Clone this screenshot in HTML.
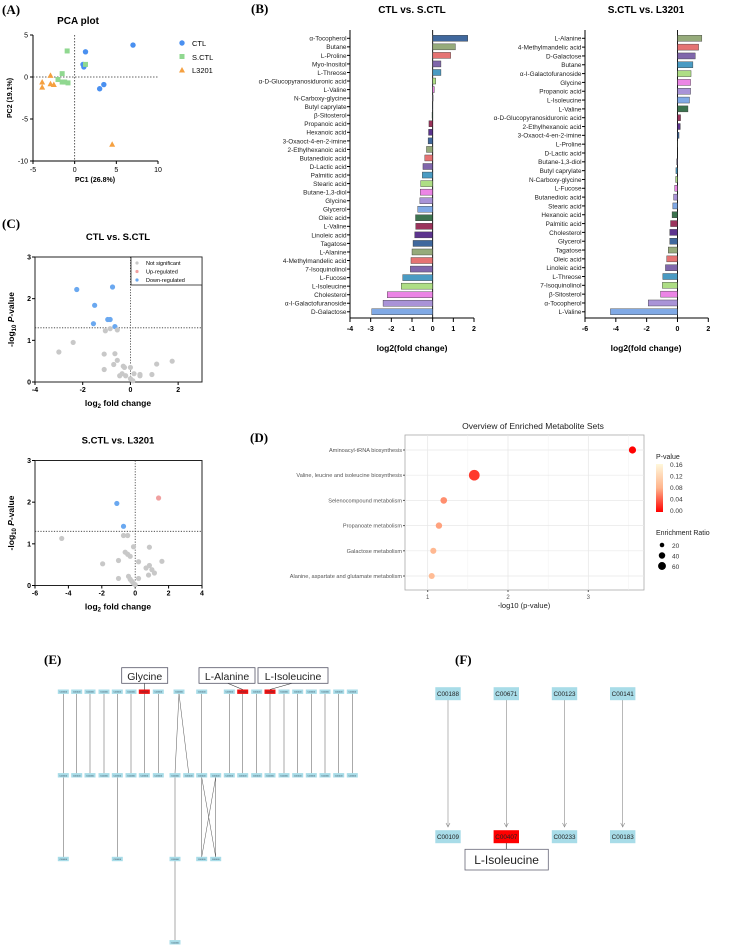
<!DOCTYPE html>
<html><head><meta charset="utf-8"><style>
body{margin:0;background:#fff;}
svg{display:block;font-family:"Liberation Sans",sans-serif;}
.pl{font-family:"Liberation Serif",serif;font-weight:bold;font-size:13px;}
</style></head><body>
<svg id="fig" width="729" height="947" viewBox="0 0 729 947">
<g id="gA"></g>
<g id="gB"></g>
<g id="gC"></g>
<g id="gD"></g>
<g id="gE"></g>
<g id="gF"></g>
<text class="pl" x="2" y="14">(A)</text>
<text class="pl" x="251" y="13">(B)</text>
<text class="pl" x="2" y="228">(C)</text>
<text class="pl" x="250" y="442">(D)</text>
<text class="pl" x="44" y="664">(E)</text>
<text class="pl" x="455" y="664">(F)</text>
</svg>
<script>
const NS="http://www.w3.org/2000/svg";
function mk(p,t,a,txt){const e=document.createElementNS(NS,t);for(const k in a)e.setAttribute(k,a[k]);if(txt!==undefined)e.textContent=txt;p.appendChild(e);return e;}
function lin(d0,d1,r0,r1){return v=>r0+(v-d0)/(d1-d0)*(r1-r0);}

/* ===== Panel A data ===== */
const pcaCTLx=[1.3,7,1,1.1,3,3.5,1.2];
const pcaCTLy=[3.0,3.8,1.5,1.2,-1.4,-0.9,1.4];
const pcaSCTLx=[-0.9,1.3,-1.5,-2,-1.5,-0.8,-1.2];
const pcaSCTLy=[3.1,1.5,0.4,-0.3,-0.6,-0.7,-0.6];
const pcaL3201x=[-2.9,-3.9,-3.9,-2.9,-2.5,4.5];
const pcaL3201y=[0.2,-0.6,-1.2,-0.8,-0.9,-8];
const pcaXTicks=[-5,0,5,10];
const pcaYTicks=[5,0,-5,-10];

/* ===== Panel B data ===== */
const fcLeftNames=["α-Tocopherol","Butane","L-Proline","Myo-Inositol","L-Threose","α-D-Glucopyranosiduronic acid","L-Valine","N-Carboxy-glycine","Butyl caprylate","β-Sitosterol","Propanoic acid","Hexanoic acid","3-Oxaoct-4-en-2-imine","2-Ethylhexanoic acid","Butanedioic acid","D-Lactic acid","Palmitic acid","Stearic acid","Butane-1,3-diol","Glycine","Glycerol","Oleic acid","L-Valine","Linoleic acid","Tagatose","L-Alanine","4-Methylmandelic acid","7-Isoquinolinol","L-Fucose","L-Isoleucine","Cholesterol","α-I-Galactofuranoside","D-Galactose"];
const fcLeftVals=[1.7,1.1,0.87,0.4,0.4,0.15,0.08,0.02,-0.02,-0.03,-0.18,-0.2,-0.22,-0.3,-0.38,-0.47,-0.5,-0.58,-0.6,-0.62,-0.72,-0.83,-0.82,-0.87,-0.95,-1.0,-1.05,-1.08,-1.45,-1.52,-2.2,-2.4,-2.95];
const fcRightNames=["L-Alanine","4-Methylmandelic acid","D-Galactose","Butane","α-I-Galactofuranoside","Glycine","Propanoic acid","L-Isoleucine","L-Valine","α-D-Glucopyranosiduronic acid","2-Ethylhexanoic acid","3-Oxaoct-4-en-2-imine","L-Proline","D-Lactic acid","Butane-1,3-diol","Butyl caprylate","N-Carboxy-glycine","L-Fucose","Butanedioic acid","Stearic acid","Hexanoic acid","Palmitic acid","Cholesterol","Glycerol","Tagatose","Oleic acid","Linoleic acid","L-Threose","7-Isoquinolinol","β-Sitosterol","α-Tocopherol","L-Valine"];
const fcRightVals=[1.58,1.37,1.15,1.0,0.88,0.85,0.85,0.78,0.68,0.2,0.18,0.1,0.02,0.0,-0.05,-0.1,-0.12,-0.18,-0.25,-0.3,-0.35,-0.45,-0.5,-0.5,-0.6,-0.7,-0.78,-0.95,-0.98,-1.1,-1.9,-4.35];
const fcLeftTicks=[-4,-3,-2,-1,0,1,2];
const fcRightTicks=[-6,-4,-2,0,2];

/* ===== Panel C data ===== */
const v1x=[-2.25,-0.75,-1.5,-1.55,-0.95,-0.85,-0.65,-1.05,-0.85,-0.55,-2.4,-3,-1.1,-0.65,-0.55,-0.7,-1.1,-0.3,-0.25,0,-0.35,-0.45,-0.2,0.15,0.4,0.4,0,0.1,0.9,1.1,1.75];
const v1y=[2.22,2.28,1.84,1.4,1.5,1.5,1.33,1.23,1.28,1.25,0.95,0.72,0.67,0.68,0.52,0.42,0.3,0.38,0.35,0.35,0.2,0.15,0.15,0.2,0.18,0.15,0.08,0.03,0.18,0.43,0.5];
const v1cls=["d","d","d","d","d","d","d","n","n","n","n","n","n","n","n","n","n","n","n","n","n","n","n","n","n","n","n","n","n","n","n"];
const v2x=[1.4,-1.1,-0.7,-4.4,-0.7,-0.45,-0.1,0.85,-0.6,-0.45,-0.3,-1,-1.95,0.2,1.6,0.85,0.65,1,1.15,0.8,-1,-0.4,-0.3,-0.2,0.2,-0.1,0];
const v2y=[2.1,1.97,1.42,1.13,1.2,1.2,0.93,0.92,0.8,0.75,0.7,0.6,0.52,0.57,0.58,0.48,0.42,0.38,0.3,0.25,0.17,0.22,0.15,0.1,0.17,0.05,0.02];
const v2cls=["u","d","d","n","n","n","n","n","n","n","n","n","n","n","n","n","n","n","n","n","n","n","n","n","n","n","n"];
const v1XTicks=[-4,-2,0,2];
const v2XTicks=[-6,-4,-2,0,2,4];
const vYTicks=[0,1,2,3];

/* ===== Panel D data ===== */
const enrNames=["Aminoacyl-tRNA biosynthesis","Valine, leucine and isoleucine biosynthesis","Selenocompound metabolism","Propanoate metabolism","Galactose metabolism","Alanine, aspartate and glutamate metabolism"];
const enrLogP=[3.55,1.58,1.2,1.14,1.07,1.05];
const enrPval=[0.0003,0.026,0.063,0.072,0.085,0.089];
const enrRatio=[28,62,24,22,20,20];
const enrXTicks=[1,2,3];
const pLegendTicks=[0.16,0.12,0.08,0.04,0.00];
const erLegend=[20,40,60];

/* ===== Panel A ===== */
(function(){
const g=document.getElementById('gA');
const X=lin(-5,10,33,158),Y=lin(5,-10,35,161);
mk(g,'text',{x:78,y:24,'font-size':10,'font-weight':'bold','text-anchor':'middle',},'PCA plot');
mk(g,'line',{x1:33,y1:35,x2:33,y2:161,stroke:'#000','stroke-width':1,});
mk(g,'line',{x1:33,y1:161,x2:158,y2:161,stroke:'#000','stroke-width':1,});
mk(g,'line',{x1:X(0),y1:35,x2:X(0),y2:161,stroke:'#333','stroke-dasharray':'1.5,1.5','stroke-width':0.8,});
mk(g,'line',{x1:33,y1:Y(0),x2:158,y2:Y(0),stroke:'#333','stroke-dasharray':'1.5,1.5','stroke-width':0.8,});
pcaXTicks.forEach(t=>{mk(g,'line',{x1:X(t),y1:161,x2:X(t),y2:164,stroke:'#000'});const e=mk(g,'text',{x:X(t),y:172,'font-size':7,'text-anchor':'middle'},t);});
pcaYTicks.forEach(t=>{mk(g,'line',{x1:30,y1:Y(t),x2:33,y2:Y(t),stroke:'#000'});const e=mk(g,'text',{x:28,y:Y(t)+2.5,'font-size':7,'text-anchor':'end'},t);});
mk(g,'text',{x:95,y:182,'font-size':7,'font-weight':'bold','text-anchor':'middle',},'PC1 (26.8%)');
mk(g,'text',{x:12,y:98,'font-size':7,'font-weight':'bold','text-anchor':'middle',transform:'rotate(-90 12 98)',},'PC2 (19.1%)');
pcaCTLx.forEach((v,i)=>{const e=mk(g,'circle',{cx:X(v),cy:Y(pcaCTLy[i]),r:2.7,fill:'#4a90f0'});});
pcaSCTLx.forEach((v,i)=>{const e=mk(g,'rect',{x:X(v)-2.5,y:Y(pcaSCTLy[i])-2.5,width:5,height:5,fill:'#90d890'});});
pcaL3201x.forEach((v,i)=>{const x=X(v),y=Y(pcaL3201y[i]);const e=mk(g,'polygon',{points:`${x},${y-3} ${x-3},${y+2.5} ${x+3},${y+2.5}`,fill:'#f5a040'});});
const lg=mk(g,'g',{});
mk(lg,'circle',{cx:182,cy:43,r:2.7,fill:'#4a90f0'});mk(lg,'text',{x:192,y:46,'font-size':7.5},'CTL');
mk(lg,'rect',{x:179.5,y:54,width:5,height:5,fill:'#90d890'});mk(lg,'text',{x:192,y:60,'font-size':7.5},'S.CTL');
mk(lg,'polygon',{points:'182,67 179,72.5 185,72.5',fill:'#f5a040'});mk(lg,'text',{x:192,y:73,'font-size':7.5},'L3201');
})();

/* ===== Panel B ===== */
const pal=['#1f4e8c','#849c64','#e05a5a','#6a4c9c','#2a8ab8','#a0d870','#e870e0','#9a80d0','#6a9ae0','#1a5a30','#8a1040','#40107a'];
function fcPanel(names,vals,ticks,xmin,xmax,axL,axR,title,cx,start,tag){
 const g=document.getElementById('gB');
 const X=lin(xmin,xmax,axL,axR);const n=names.length;
 const y0=38.3,y1=311.8;const Y=i=>y0+i*(y1-y0)/(n-1);
 mk(g,'text',{x:cx,y:13,'font-size':10,'font-weight':'bold','text-anchor':'middle',},title);
 mk(g,'line',{x1:axL,y1:30,x2:axL,y2:318,stroke:'#000','stroke-width':1,});
 mk(g,'line',{x1:axL,y1:318,x2:axR,y2:318,stroke:'#000','stroke-width':1,});
 mk(g,'line',{x1:X(0),y1:30,x2:X(0),y2:318,stroke:'#000','stroke-width':0.9});
 ticks.forEach(t=>{mk(g,'line',{x1:X(t),y1:318,x2:X(t),y2:322,stroke:'#000'});const e=mk(g,'text',{x:X(t),y:331,'font-size':7,'font-weight':'bold','text-anchor':'middle'},t);});
 mk(g,'text',{x:cx,y:351,'font-size':8.5,'font-weight':'bold','text-anchor':'middle',},'log2(fold change)');
 names.forEach((nm,i)=>{
  const y=Y(i);mk(g,'line',{x1:axL-3,y1:y,x2:axL,y2:y,stroke:'#000'});
  const t=mk(g,'text',{x:axL-3.5,y:y+2.4,'font-size':6.4,'text-anchor':'end',fill:'#222'},nm);
  
  const v=vals[i];const xa=Math.min(X(0),X(v)),w=Math.abs(X(v)-X(0));
  const c=pal[(i+start)%pal.length];
  const b=mk(g,'rect',{x:xa,y:y-3,width:w,height:6,fill:c,'fill-opacity':0.85,stroke:'#333','stroke-width':0.4});
  
 });
}
fcPanel(fcLeftNames,fcLeftVals,fcLeftTicks,-4,2,350,474,'CTL vs. S.CTL',412,0,'fc-left');
fcPanel(fcRightNames,fcRightVals,fcRightTicks,-6,2,585,708.3,'S.CTL vs. L3201',646,1,'fc-right');

/* ===== Panel C ===== */
function volcano(xs,ys,cls,xt,xmin,xmax,top,title,tag,legend){
 const g=document.getElementById('gC');
 const L=35,R=202,B=top+125;const X=lin(xmin,xmax,L,R),Y=lin(0,3,B,top);
 mk(g,'text',{x:118,y:top-17,'font-size':9.5,'font-weight':'bold','text-anchor':'middle',},title);
 mk(g,'rect',{x:L,y:top,width:R-L,height:B-top,fill:'none',stroke:'#222','stroke-width':1,});
 mk(g,'line',{x1:X(0),y1:top,x2:X(0),y2:B,stroke:'#333','stroke-dasharray':'1.2,1.5','stroke-width':0.8});
 mk(g,'line',{x1:L,y1:Y(1.3),x2:R,y2:Y(1.3),stroke:'#333','stroke-dasharray':'1.2,1.5','stroke-width':0.8});
 xt.forEach(t=>{mk(g,'line',{x1:X(t),y1:B,x2:X(t),y2:B+3,stroke:'#000'});const e=mk(g,'text',{x:X(t),y:B+10,'font-size':7,'font-weight':'bold','text-anchor':'middle'},t);});
 vYTicks.forEach(t=>{mk(g,'line',{x1:L-3,y1:Y(t),x2:L,y2:Y(t),stroke:'#000'});const e=mk(g,'text',{x:L-4,y:Y(t)+2.5,'font-size':7,'font-weight':'bold','text-anchor':'end'},t);});
 const xl=mk(g,'text',{x:118,y:B+24,'font-size':8.5,'font-weight':'bold','text-anchor':'middle',});
 xl.innerHTML='log<tspan font-size="6" dy="2">2</tspan><tspan dy="-2"> fold change</tspan>';
 const yl=mk(g,'text',{x:14,y:(top+B)/2,'font-size':8.5,'font-weight':'bold','text-anchor':'middle',transform:`rotate(-90 14 ${(top+B)/2})`,});
 yl.innerHTML='-log<tspan font-size="6" dy="2">10</tspan><tspan dy="-2" font-style="italic"> P</tspan>-value';
 const col={n:'#c8c8c8',u:'#f0a0a0',d:'#6aa8f0'};
 xs.forEach((v,i)=>{const e=mk(g,'circle',{cx:X(v),cy:Y(ys[i]),r:2.6,fill:col[cls[i]]});});
 if(legend){const lg=mk(g,'g',{});
  mk(lg,'rect',{x:131,y:top,width:71,height:28,fill:'#fff',stroke:'#222','stroke-width':0.8});
  [['n','Not significant'],['u','Up-regulated'],['d','Down-regulated']].forEach((p,k)=>{mk(lg,'circle',{cx:137,cy:top+6+k*8.5,r:1.6,fill:col[p[0]]});mk(lg,'text',{x:146,y:top+8+k*8.5,'font-size':5.5},p[1]);});}
}
volcano(v1x,v1y,v1cls,v1XTicks,-4,3,257,'CTL vs. S.CTL','volcano-top',true);
volcano(v2x,v2y,v2cls,v2XTicks,-6,4,460.5,'S.CTL vs. L3201','volcano-bottom',false);

/* ===== Panel D ===== */
(function(){
 const g=document.getElementById('gD');
 const L=405,R=644,T=435,B=590;const X=lin(1,3,427.7,588.3);
 const Y=i=>450+i*25.2;
 mk(g,'text',{x:533,y:429,'font-size':8.5,'text-anchor':'middle',fill:'#222',},'Overview of Enriched Metabolite Sets');
 mk(g,'rect',{x:L,y:T,width:R-L,height:B-T,fill:'#fff',stroke:'#aaa','stroke-width':0.8,});
 [1.5,2.5,3.5].forEach(t=>mk(g,'line',{x1:X(t),y1:T,x2:X(t),y2:B,stroke:'#f0f0f0','stroke-width':0.5}));
 enrXTicks.forEach(t=>{mk(g,'line',{x1:X(t),y1:T,x2:X(t),y2:B,stroke:'#e4e4e4','stroke-width':0.7});mk(g,'line',{x1:X(t),y1:B,x2:X(t),y2:B+2,stroke:'#555'});const e=mk(g,'text',{x:X(t),y:B+9,'font-size':6,'text-anchor':'middle',fill:'#555'},t);});
 mk(g,'text',{x:524,y:608,'font-size':7.5,'text-anchor':'middle',fill:'#222',},'-log10 (p-value)');
 function pcol(p){const t=Math.min(p/0.16,1);const a=[255,0,0],b=[255,248,220];const m=[255,180,140];let c;if(t<0.5){const u=t/0.5;c=a.map((v,k)=>v+(m[k]-v)*u);}else{const u=(t-0.5)/0.5;c=m.map((v,k)=>v+(b[k]-v)*u);}return `rgb(${c.map(Math.round).join(',')})`;}
 const rs=v=>Math.sqrt(v)*0.68;
 enrNames.forEach((nm,i)=>{const y=Y(i);
  mk(g,'line',{x1:L,y1:y,x2:R,y2:y,stroke:'#e8e8e8','stroke-width':0.7});
  mk(g,'line',{x1:L-2,y1:y,x2:L,y2:y,stroke:'#555'});
  const t=mk(g,'text',{x:L-3,y:y+2,'font-size':5.6,'text-anchor':'end',fill:'#555'},nm);
  const c=mk(g,'circle',{cx:X(enrLogP[i]),cy:y,r:rs(enrRatio[i]),fill:pcol(enrPval[i])});
 });
 const lg=mk(g,'g',{});
 const df=mk(lg,'defs',{});const gr=mk(df,'linearGradient',{id:'pg',x1:0,y1:1,x2:0,y2:0});
 mk(gr,'stop',{offset:'0','stop-color':pcol(0)});mk(gr,'stop',{offset:'0.5','stop-color':pcol(0.08)});mk(gr,'stop',{offset:'1','stop-color':pcol(0.16)});
 mk(lg,'text',{x:656,y:459,'font-size':7,fill:'#222'},'P-value');
 mk(lg,'rect',{x:656,y:464,width:7,height:48,fill:'url(#pg)'});
 pLegendTicks.forEach((t,k)=>mk(lg,'text',{x:670,y:467+k*11.5,'font-size':6.5,fill:'#333'},t.toFixed(2)));
 mk(lg,'text',{x:656,y:535,'font-size':7,fill:'#222'},'Enrichment Ratio');
 erLegend.forEach((v,k)=>{mk(lg,'circle',{cx:662,cy:545+k*10.5,r:rs(v)*0.75,fill:'#000'});mk(lg,'text',{x:672,y:548+k*10.5,'font-size':6.5,fill:'#333'},v);});
})();

/* ===== Panel E ===== */
const eTopX=[63.3,76.7,90,104,117.3,131,144.3,158.3,179,201.7,229.3,242.7,256.7,270,284,297.7,311.3,325,338.7,352.3];
const eTopRed=[6,11,13];
const eMidX=[63.3,76.7,90,104,117.3,131,144.3,158.3,175,188.7,201.7,215.7,229.3,242.7,256.7,270,284,297.7,311.3,325,338.7,352.3];
(function(){
 const g=document.getElementById('gE');
 const yT=691.7,yM=775.3,yB=859,y4=942.3;
 const edges=[[0,0],[1,1],[2,2],[3,3],[4,4],[5,5],[6,6],[7,7],[8,8],[8,9],[9,10],[10,12],[11,13],[12,14],[13,15],[14,16],[15,17],[16,18],[17,19],[18,20],[19,21]];
 edges.forEach(([a,b])=>{const e=mk(g,'line',{x1:eTopX[a],y1:yT+2,x2:eMidX[b],y2:yM-2,stroke:'#555','stroke-width':0.5});});
 [[63.3,63.3],[117.3,117.3],[175,175],[201.7,201.7],[201.7,215.7],[215.7,201.7],[215.7,215.7]].forEach(([a,b])=>mk(g,'line',{x1:a,y1:yM+2,x2:b,y2:yB-2,stroke:'#555','stroke-width':0.5}));
 mk(g,'line',{x1:175,y1:yB+2,x2:175,y2:y4-2,stroke:'#555','stroke-width':0.5});
 function node(x,y,red){const r=mk(g,'rect',{x:x-5.5,y:y-2.2,width:11,height:4.4,fill:red?'#ee1111':'#a8dce8'});mk(g,'text',{x:x,y:y+1,'font-size':2.2,'text-anchor':'middle',fill:'#345'},'C00000');}
 eTopX.forEach((x,i)=>node(x,yT,eTopRed.includes(i)));
 eMidX.forEach(x=>node(x,yM,false));
 [63.3,117.3,175,201.7,215.7].forEach(x=>node(x,yB,false));
 node(175,y4,false);
 [['Glycine',121.7,167.7,144.3],['L-Alanine',199,255,242.7],['L-Isoleucine',258,328,270]].forEach(([t,a,b,nx])=>{
  mk(g,'line',{x1:(a+b)/2,y1:683,x2:nx,y2:689.5,stroke:'#333','stroke-width':0.6});
  const bx=mk(g,'rect',{x:a,y:667.7,width:b-a,height:15.6,fill:'#fff',stroke:'#556','stroke-width':0.8});
  mk(g,'text',{x:(a+b)/2,y:680,'font-size':10.5,'text-anchor':'middle',fill:'#222'},t);});
})();

/* ===== Panel F ===== */
const fTop=["C00188","C00671","C00123","C00141"];
const fBot=["C00109","C00407","C00233","C00183"];
const fX=[448,506.3,564.5,622.7];
(function(){
 const g=document.getElementById('gF');
 fX.forEach((x,i)=>{
  mk(g,'line',{x1:x,y1:700,x2:x,y2:827,stroke:'#888','stroke-width':0.6});
  mk(g,'polyline',{points:`${x-2},${823} ${x},${827} ${x+2},${823}`,fill:'none',stroke:'#888','stroke-width':0.6});
  [[fTop[i],693.7],[fBot[i],836.7]].forEach(([t,y],k)=>{const red=(k==1&&i==1);
   const r=mk(g,'rect',{x:x-12.7,y:y-6.5,width:25.4,height:13,fill:red?'#ff0000':'#a8dce8'});
   mk(g,'text',{x:x,y:y+2.3,'font-size':6.3,'text-anchor':'middle',fill:'#222'},t);});
 });
 mk(g,'line',{x1:506.3,y1:843,x2:506.3,y2:849.3,stroke:'#333','stroke-width':0.7});
 mk(g,'rect',{x:465,y:849.3,width:83.3,height:20.7,fill:'#fff',stroke:'#667','stroke-width':0.8,});
 mk(g,'text',{x:506.6,y:864,'font-size':12,'text-anchor':'middle',fill:'#222'},'L-Isoleucine');
})();
</script>
</body></html>
